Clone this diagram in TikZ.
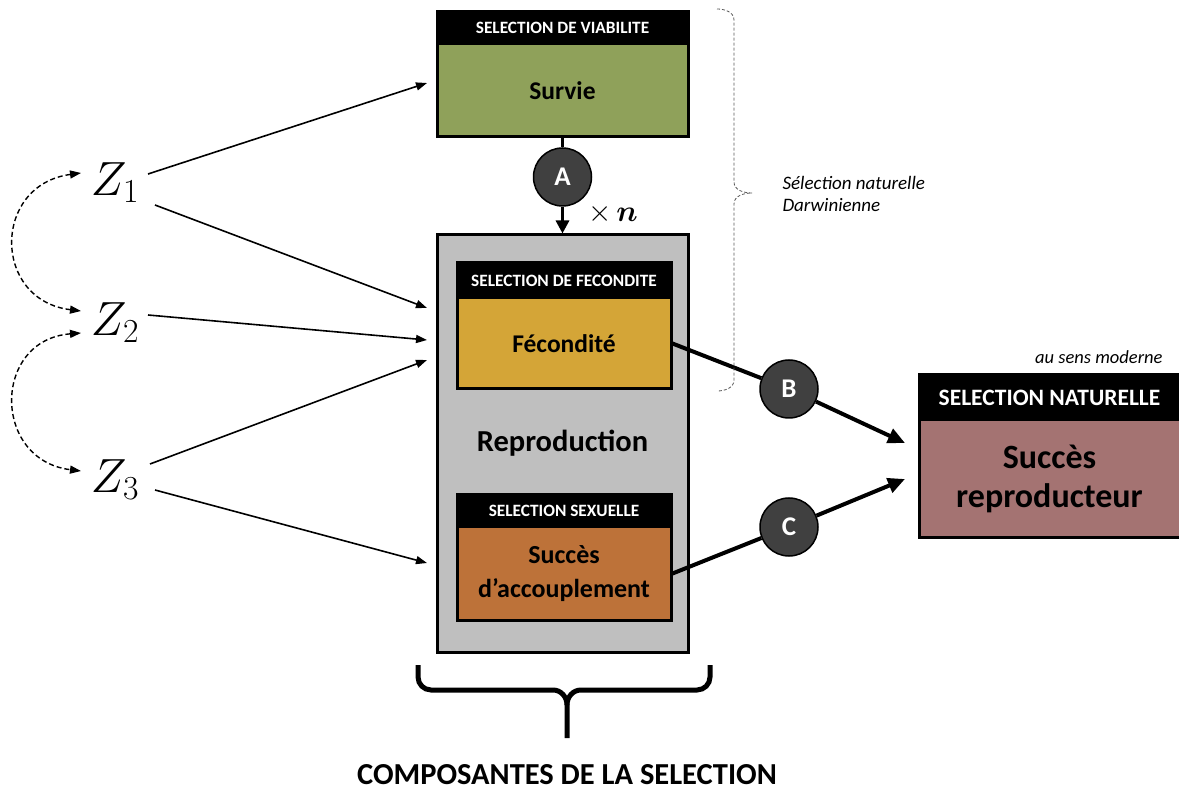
\RequirePackage{fix-cm}
\documentclass[tikz,border=0pt]{standalone}
\usepackage{amsmath,bm}
\usepackage{fontspec}
\setmainfont{Carlito}
\usetikzlibrary{arrows.meta,calc}
\definecolor{cgreen}{RGB}{143,161,90}
\definecolor{cgold}{RGB}{212,165,55}
\definecolor{corange}{RGB}{189,114,57}
\definecolor{crose}{RGB}{164,115,114}
\definecolor{cgrey}{RGB}{191,191,191}
\definecolor{cdark}{RGB}{64,64,64}
\newcommand{\fsz}[1]{\fontsize{#1}{#1}\selectfont}
\begin{document}
\begin{tikzpicture}[x=1pt,y=-1pt,
  box/.style={draw=black, line width=3pt, inner sep=0pt, align=center, font=\fsz{25.5}\bfseries},
  hdr/.style={draw=black, fill=black, line width=3pt, inner sep=0pt, text=white, font=\fsz{17.3}\bfseries},
  circ/.style={circle, draw=black, line width=1.5pt, fill=cdark, minimum size=58pt, inner sep=0pt, text=white, font=\fsz{27}\bfseries},
  zarr/.style={line width=1.6pt, -{Triangle[length=11pt,width=8pt]}},
  darr/.style={line width=1.4pt, dash pattern=on 5pt off 3pt, {Triangle[length=11pt,width=8pt]}-{Triangle[length=11pt,width=8pt]}},
  bigarr/.style={line width=4pt, -{Triangle[length=17pt,width=15pt]}},
  zlab/.style={inner sep=0pt, font=\fsz{48}}
]
\useasboundingbox (0,0) rectangle (1179,791);

% Survie
\node[box, fill=cgreen, minimum width=251pt, minimum height=93pt] (surv) at (562.5,90.5) {Survie};
\node[hdr, minimum width=251pt, minimum height=32pt] (survh) at (562.5,28) {SELECTION DE VIABILITE};

% Reproduction
\node[box, fill=cgrey, minimum width=251pt, minimum height=417pt, font=\fsz{30.5}\bfseries] (rep) at (562.5,443.5) {\raisebox{3pt}{Reproduction}};
\node[box, fill=cgold, minimum width=214pt, minimum height=91pt] (fec) at (564,343.5) {Fécondité};
\node[hdr, minimum width=214pt, minimum height=35pt] (fech) at (564,280.5) {SELECTION DE FECONDITE};
\node[box, fill=corange, minimum width=214pt, minimum height=93pt, font=\fsz{26}\bfseries] (sex) at (564,573.5) {Succès\\[8pt]d’accouplement};
\node[hdr, minimum width=214pt, minimum height=32pt] (sexh) at (564,511) {SELECTION SEXUELLE};

% Selection naturelle
\node[box, fill=crose, minimum width=261pt, minimum height=118pt, font=\fsz{34}\bfseries] (nat) at (1049.5,479) {Succès\\[5pt]reproducteur};
\node[hdr, minimum width=261pt, minimum height=45pt, font=\fsz{23.5}\bfseries] (nath) at (1049.5,397.5) {SELECTION NATURELLE};
\node[font=\fsz{18.5}\itshape, anchor=east] (moderne) at (1166,357) {au sens moderne};

% A connector
\node[circ] (A) at (562.5,177) {A};
\draw[line width=3pt] (surv) -- (A);
\draw[line width=3pt, -{Triangle[length=13pt,width=13pt]}] (A) -- (rep);
\node[font=\fsz{30}] (xn) at (613,214) {$\times\,\bm{n}$};

% B and C
\coordinate (nB) at (905,443);
\coordinate (nC) at (905,479);
\node[circ] (B) at (789,389) {B};
\node[circ] (C) at (789,527) {C};
\draw[line width=4pt] (fec.east) -- (B);
\draw[bigarr] (B) -- (nB);
\draw[line width=4pt] (sex.east) -- (C);
\draw[bigarr] (C) -- (nC);

% Dashed brace (Darwinian selection)
\draw[line width=0.8pt, gray!70!black, dash pattern=on 3pt off 2pt]
  (717,9) to[out=0,in=90] (734,20) -- (734,182) to[out=-90,in=180] (752,193)
  to[out=180,in=90] (734,204) -- (734,380) to[out=-90,in=0] (717,391);
\node[font=\fsz{19}\itshape, align=left, anchor=west] (darw) at (779,194) {Sélection naturelle\\[3pt]Darwinienne};

% Z variables
\node[zlab] (z1) at (115,183) {$Z_1$};
\node[zlab] (z2) at (115,323) {$Z_2$};
\node[zlab] (z3) at (115,480) {$Z_3$};
\coordinate (t1) at (427,83);
\coordinate (t2) at (427,308);
\coordinate (t3) at (427,340);
\coordinate (t4) at (427,360);
\coordinate (t5) at (427,563);
\draw[zarr] ($(z1)+(33,-9)$) -- (t1);
\draw[zarr] ($(z1)+(40,22)$) -- (t2);
\draw[zarr] ($(z2)+(33,-8)$) -- (t3);
\draw[zarr] ($(z3)+(35,-16)$) -- (t4);
\draw[zarr] ($(z3)+(40,10)$) -- (t5);
\draw[darr] ($(z1)+(-34,-10)$) .. controls (-8,185) and (-8,300) .. ($(z2)+(-34,-12)$);
\draw[darr] ($(z2)+(-34,10)$) .. controls (-8,340) and (-8,460) .. ($(z3)+(-34,-9)$);

% Bottom brace
\coordinate (bl) at (418,665);
\coordinate (br) at (710,665);
\coordinate (bt) at (567,738);
\draw[line width=5pt]
  (bl) -- (418,677) to[out=-90,in=180] (431,690) -- (553,690) to[out=0,in=90] (567,705) -- (bt);
\draw[line width=5pt]
  (br) -- (710,677) to[out=-90,in=0] (697,690) -- (581,690) to[out=180,in=90] (567,705);
\node[font=\fsz{30.5}\bfseries, inner sep=0pt] (comp) at (567,775) {COMPOSANTES DE LA SELECTION};
\end{tikzpicture}
\end{document}
